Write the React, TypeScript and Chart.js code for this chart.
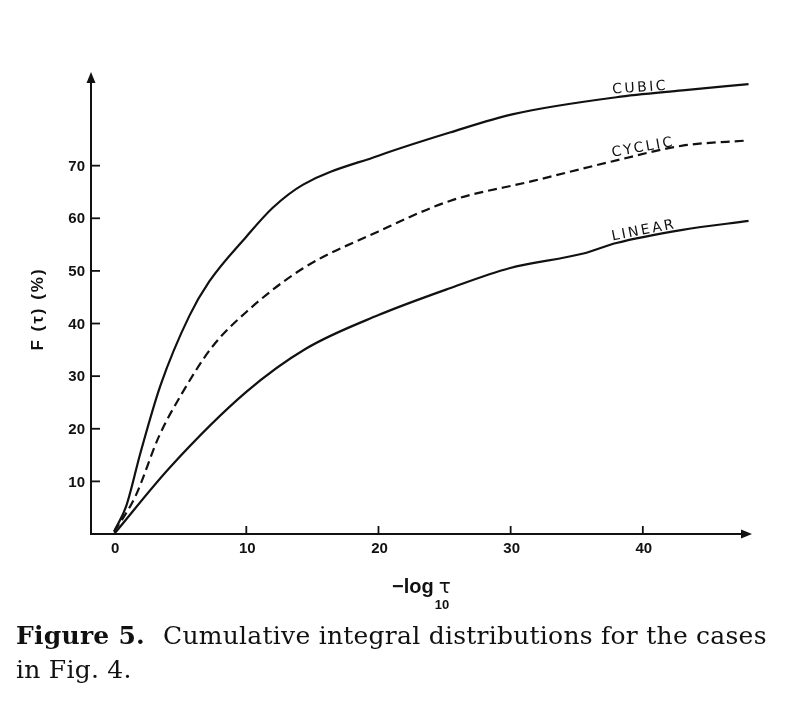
import React, { useEffect, useRef } from "react";
import Chart from "chart.js/auto";

// values
const cubicX = [0, 0.9, 2, 3.5, 5.7, 7.2, 10, 12, 14.3, 20, 25.4, 30.2, 38, 43, 48];
const cubicY = [0.5, 5.2, 15.5, 28.2, 41.5, 48, 56.5, 62, 66.4, 71.9, 76.3, 79.8, 83, 84.3, 85.5];

const cyclicX = [0, 1.6, 3.4, 5.2, 7.4, 10, 14.3, 20, 25.4, 31.7, 38, 43, 48];
const cyclicY = [0.4, 7.1, 18.6, 27, 35.5, 42.2, 50.5, 57.5, 63.3, 67.1, 71, 73.8, 74.8];

const linearX = [0, 4.2, 10, 14.5, 20, 25.4, 29.9, 35.5, 38, 43, 48];
const linearY = [0, 12.6, 27, 35.2, 41.6, 46.7, 50.5, 53.3, 55.3, 57.8, 59.5];

const xTickLabels = [0, 10, 20, 30, 40];
const xTickMarks = [10, 20, 30, 40];
const yTicks = [10, 20, 30, 40, 50, 60, 70];

// curve names: [text, x, y, angle in degrees]
const curveNames: [string, number, number, number][] = [
  ["CUBIC", 37.7, 83.7, -4],
  ["CYCLIC", 37.7, 71.7, -10],
  ["LINEAR", 37.7, 55.8, -11],
];

const INK = "#111";

const toPoints = (xs: number[], ys: number[]) => xs.map((x, i) => ({ x, y: ys[i] }));

const axesPlugin = {
  id: "axes",
  afterDatasetsDraw(chart: any) {
    const { ctx, chartArea, scales } = chart;
    const { left, right, top } = chartArea;
    const xs = scales.x;
    const ys = scales.y;
    const y0 = ys.getPixelForValue(0);

    ctx.save();
    ctx.strokeStyle = INK;
    ctx.fillStyle = INK;
    ctx.lineWidth = 2;

    // y axis + arrow
    ctx.beginPath();
    ctx.moveTo(left, y0 + 1);
    ctx.lineTo(left, top + 8);
    ctx.stroke();
    ctx.beginPath();
    ctx.moveTo(left, top);
    ctx.lineTo(left - 4.5, top + 11);
    ctx.lineTo(left + 4.5, top + 11);
    ctx.closePath();
    ctx.fill();

    // x axis + arrow
    ctx.beginPath();
    ctx.moveTo(left - 1, y0);
    ctx.lineTo(right - 8, y0);
    ctx.stroke();
    ctx.beginPath();
    ctx.moveTo(right, y0);
    ctx.lineTo(right - 11, y0 - 4.5);
    ctx.lineTo(right - 11, y0 + 4.5);
    ctx.closePath();
    ctx.fill();

    ctx.lineWidth = 1.8;
    ctx.font = "bold 15px 'Liberation Sans'";

    // y ticks
    ctx.textAlign = "right";
    ctx.textBaseline = "middle";
    yTicks.forEach((v) => {
      const py = ys.getPixelForValue(v);
      ctx.beginPath();
      ctx.moveTo(left, py);
      ctx.lineTo(left + 9, py);
      ctx.stroke();
      ctx.fillText(String(v), left - 6, py + 1);
    });

    // x ticks
    xTickMarks.forEach((v) => {
      const px = xs.getPixelForValue(v);
      ctx.beginPath();
      ctx.moveTo(px, y0);
      ctx.lineTo(px, y0 - 8);
      ctx.stroke();
    });
    ctx.textAlign = "center";
    xTickLabels.forEach((v) => {
      ctx.fillText(String(v), xs.getPixelForValue(v) + 1, y0 + 15);
    });

    // y title
    ctx.save();
    ctx.translate(38, 309);
    ctx.rotate(-Math.PI / 2);
    ctx.textAlign = "center";
    ctx.textBaseline = "middle";
    ctx.font = "bold 17px 'Liberation Sans'";
    (ctx as any).letterSpacing = "2px";
    ctx.fillText("F (τ) (%)", 0, 0);
    ctx.restore();

    // x title: -log10 tau
    ctx.textAlign = "left";
    ctx.textBaseline = "alphabetic";
    ctx.font = "bold 20px 'Liberation Sans'";
    const cx = 392;
    const part = "\u2212log";
    ctx.fillText(part, cx, 593);
    const w = ctx.measureText(part).width;
    ctx.font = "20px 'DejaVu Sans'";
    ctx.fillText("τ", cx + w + 5, 593);
    ctx.font = "bold 13px 'Liberation Sans'";
    ctx.fillText("10", cx + w + 1, 609);

    // curve names
    ctx.font = "14px 'DejaVu Sans'";
    (ctx as any).letterSpacing = "2.5px";
    curveNames.forEach(([t, vx, vy, a]) => {
      ctx.save();
      ctx.translate(xs.getPixelForValue(vx), ys.getPixelForValue(vy));
      ctx.rotate((a * Math.PI) / 180);
      ctx.fillText(t, 0, 0);
      ctx.restore();
    });

    ctx.restore();
  },
};

const FigureChart: React.FC = () => {
  const chartRef = useRef<HTMLCanvasElement>(null);
  const chartInstance = useRef<Chart>();

  useEffect(() => {
    if (!chartRef.current) return;
    const ctx = chartRef.current.getContext("2d");
    if (!ctx) return;

    const line = (data: { x: number; y: number }[], dash: number[] = []) => ({
      data,
      borderColor: INK,
      borderWidth: 2.2,
      borderDash: dash,
      pointRadius: 0,
      cubicInterpolationMode: "monotone" as const,
      fill: false,
    });

    chartInstance.current = new Chart(ctx, {
      type: "line",
      data: {
        datasets: [
          line(toPoints(cubicX, cubicY)),
          line(toPoints(cyclicX, cyclicY), [9, 5]),
          line(toPoints(linearX, linearY)),
        ],
      },
      options: {
        responsive: false,
        animation: false,
        layout: { padding: { left: 91, right: 46, top: 72, bottom: 184 } },
        scales: {
          x: { type: "linear", min: -1.75, max: 48.26, display: false },
          y: { type: "linear", min: 0, max: 87.8, display: false },
        },
        plugins: { legend: { display: false }, tooltip: { enabled: false } },
      },
      plugins: [axesPlugin],
    });

    return () => {
      if (chartInstance.current) {
        chartInstance.current.destroy();
      }
    };
  }, []);

  return (
    <div style={{ position: "absolute", left: 0, top: 0, width: 798, height: 718, background: "#fff" }}>
      <canvas ref={chartRef} width={798} height={718} style={{ display: "block" }}></canvas>
      <div
        style={{
          position: "absolute",
          left: 16,
          top: 619,
          fontFamily: "'DejaVu Serif', serif",
          fontSize: 25,
          lineHeight: "34px",
          letterSpacing: "0.25px",
          color: "#111",
          whiteSpace: "nowrap",
        }}
      >
        <span style={{ fontWeight: "bold", marginRight: 18 }}>Figure 5.</span>
        Cumulative integral distributions for the cases
        <br />
        in Fig. 4.
      </div>
    </div>
  );
};

export default function App() {
  return <FigureChart />;
}
